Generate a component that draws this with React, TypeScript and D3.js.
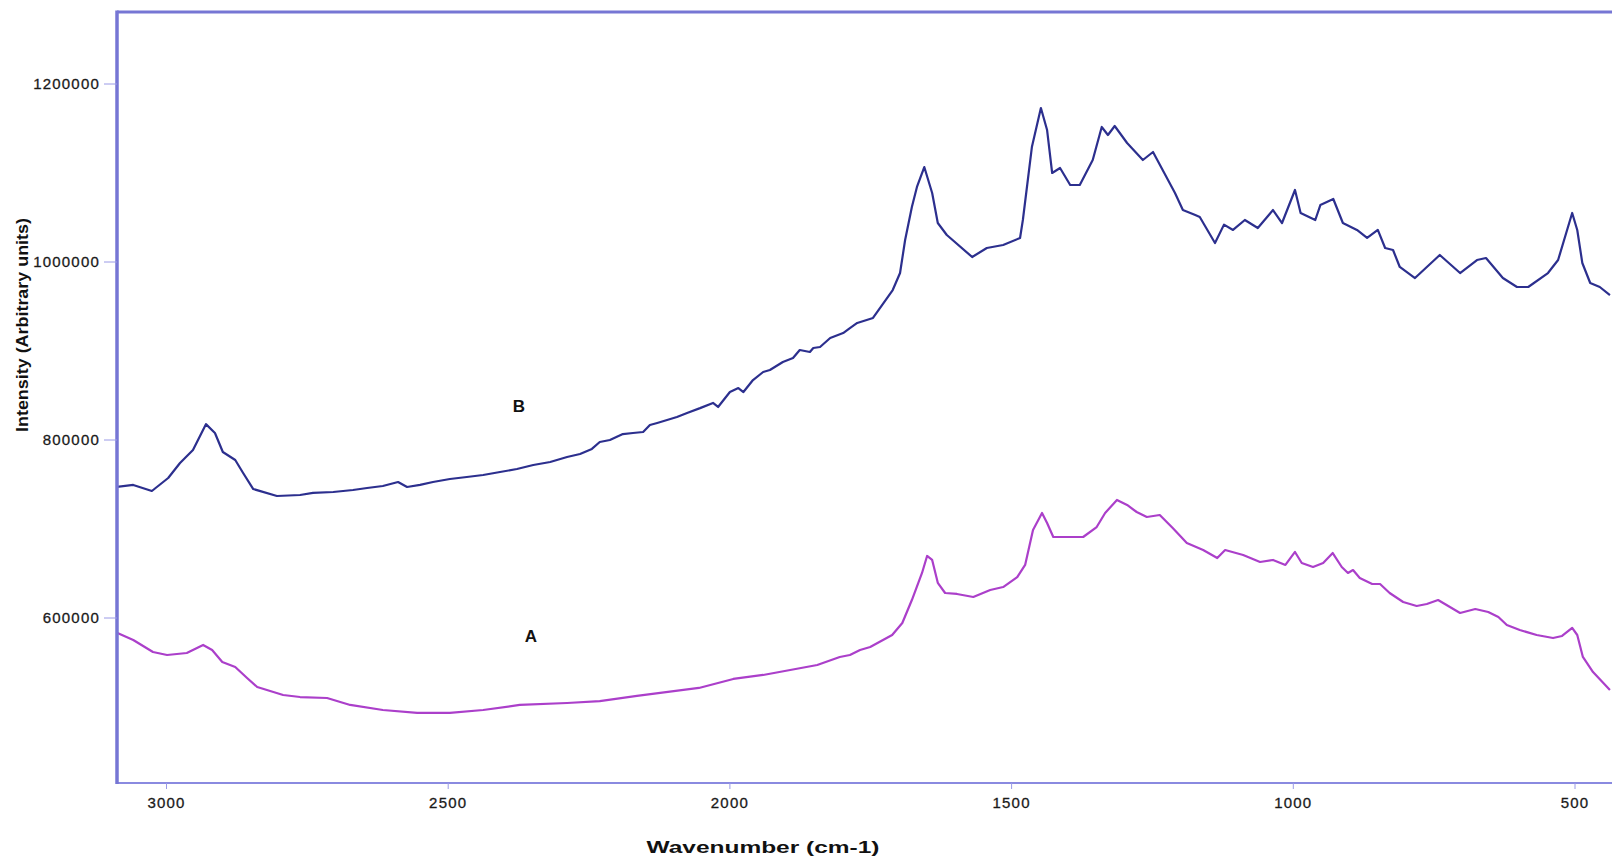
import React from "react";
import * as d3 from "d3";

// Wavenumber (cm-1) and intensity readings for spectrum B (upper, navy)
const waveB = [3088, 3059, 3026, 2997, 2976, 2953, 2930, 2914, 2900, 2878, 2864, 2846, 2804, 2763, 2740, 2704, 2669, 2644, 2616, 2589, 2573, 2550, 2527, 2497, 2467, 2438, 2408, 2378, 2349, 2319, 2289, 2266, 2245, 2231, 2213, 2190, 2172, 2154, 2142, 2129, 2094, 2076, 2053, 2030, 2021, 2000, 1985, 1976, 1959, 1941, 1929, 1906, 1888, 1876, 1858, 1852, 1840, 1822, 1799, 1787, 1774, 1746, 1711, 1698, 1689, 1677, 1668, 1655, 1641, 1631, 1615, 1570, 1544, 1515, 1485, 1480, 1464, 1448, 1437, 1428, 1414, 1396, 1379, 1356, 1340, 1329, 1317, 1295, 1267, 1249, 1210, 1196, 1174, 1166, 1139, 1123, 1107, 1086, 1063, 1036, 1020, 997, 987, 961, 952, 929, 912, 887, 869, 850, 837, 823, 811, 784, 740, 704, 674, 658, 628, 603, 583, 548, 530, 505, 496, 487, 473, 456, 438];
const intensityB = [747200, 749500, 742700, 757300, 774200, 788800, 817800, 807900, 786500, 777500, 762900, 744900, 737100, 738200, 740500, 741600, 743800, 746100, 748300, 752800, 747200, 749500, 752800, 756200, 758400, 760700, 764000, 767400, 771900, 775300, 780900, 784300, 790000, 797800, 800000, 806700, 807900, 809000, 816800, 819100, 825800, 830400, 835800, 841600, 837100, 853900, 858400, 853900, 867400, 876400, 878600, 887600, 892100, 901100, 898900, 903400, 904500, 914600, 920200, 925800, 931500, 937100, 968500, 987600, 1024700, 1061800, 1084300, 1106700, 1077500, 1043800, 1030300, 1005600, 1015700, 1019100, 1027000, 1047200, 1129200, 1173000, 1148300, 1100000, 1105600, 1086500, 1086500, 1114600, 1151700, 1142700, 1152800, 1133700, 1114600, 1123600, 1077500, 1058400, 1052800, 1050600, 1021300, 1042000, 1036000, 1047200, 1038200, 1058400, 1043800, 1080900, 1055100, 1047200, 1064000, 1070800, 1043800, 1036000, 1027000, 1036000, 1015700, 1013500, 994400, 982000, 1007900, 987600, 1002200, 1004500, 982000, 971900, 971900, 987600, 1002200, 1055100, 1036000, 998900, 976400, 971900, 962900];

// Spectrum A (lower, magenta)
const waveA = [3088, 3059, 3024, 2999, 2964, 2935, 2919, 2901, 2878, 2857, 2839, 2793, 2763, 2715, 2674, 2616, 2555, 2497, 2438, 2373, 2289, 2231, 2165, 2055, 1994, 1941, 1893, 1845, 1805, 1787, 1769, 1751, 1712, 1694, 1677, 1659, 1650, 1641, 1631, 1618, 1597, 1568, 1538, 1515, 1490, 1476, 1462, 1446, 1437, 1426, 1401, 1373, 1349, 1334, 1313, 1295, 1278, 1260, 1237, 1214, 1189, 1160, 1135, 1121, 1089, 1059, 1036, 1014, 997, 985, 965, 947, 930, 914, 903, 894, 882, 860, 846, 829, 805, 781, 763, 743, 725, 704, 677, 654, 636, 621, 598, 568, 539, 523, 505, 496, 486, 468, 438];
const intensityA = [583300, 575300, 561800, 558400, 560700, 569700, 564000, 550600, 544900, 532600, 522500, 513500, 511200, 510100, 502300, 496600, 493300, 493300, 496600, 502300, 504500, 506700, 512400, 521400, 531500, 536000, 541600, 547200, 556200, 558400, 564100, 567400, 580900, 594400, 620200, 650600, 669700, 665200, 639500, 628100, 627000, 623600, 631500, 634800, 646000, 659600, 698900, 718000, 706700, 691000, 691000, 691000, 702200, 718000, 732600, 727000, 719100, 713500, 715700, 701100, 684300, 676400, 667400, 676400, 670800, 662900, 665200, 659600, 674200, 661800, 657300, 661800, 673000, 657300, 650600, 653900, 644900, 638200, 638200, 628100, 618000, 613500, 615700, 620200, 613500, 605600, 610100, 606700, 601100, 592100, 586500, 580900, 577500, 579800, 588800, 580900, 556200, 539300, 519100];

const xTicks = [3000, 2500, 2000, 1500, 1000, 500];
const yTicks = [1200000, 1000000, 800000, 600000];

const xTitle = "Wavenumber (cm-1)";
const yTitle = "Intensity (Arbitrary units)";

export default function App() {
  const W = 1612;
  const H = 856;
  const left = 117;
  const top = 12;
  const bottom = 783;

  const x = d3.scaleLinear().domain([3000, 500]).range([166.5, 1575]);
  const y = d3.scaleLinear().domain([1200000, 600000]).range([84, 618]);

  const line = d3
    .line<[number, number]>()
    .x((d) => x(d[0]))
    .y((d) => y(d[1]));

  const dataB = waveB.map((w, i) => [w, intensityB[i]] as [number, number]);
  const dataA = waveA.map((w, i) => [w, intensityA[i]] as [number, number]);

  const frame = "#7676d4";
  const font = "Arial, 'Liberation Sans', sans-serif";

  return (
    <svg
      width={W}
      height={H}
      style={{ position: "absolute", left: 0, top: 0, background: "#fff" }}
    >
      <defs>
        <clipPath id="plotClip">
          <rect x={left} y={top} width={W - left} height={bottom - top} />
        </clipPath>
      </defs>

      {/* curves */}
      <g clipPath="url(#plotClip)" fill="none" strokeLinejoin="round">
        <path d={line(dataB) || ""} stroke="#2c2f8e" strokeWidth={2.2} />
        <path d={line(dataA) || ""} stroke="#ab3fca" strokeWidth={2.2} />
      </g>

      {/* frame */}
      <line x1={left} x2={W} y1={top} y2={top} stroke={frame} strokeWidth={3} />
      <line x1={left} x2={W} y1={bottom} y2={bottom} stroke="#8a8ae0" strokeWidth={2} />
      <line x1={left} x2={left} y1={top - 1.5} y2={bottom + 1} stroke={frame} strokeWidth={3.5} />

      {/* y ticks */}
      {yTicks.map((t) => (
        <g key={t}>
          <line x1={104} x2={left} y1={y(t)} y2={y(t)} stroke="#9a9ae6" strokeWidth={1} />
          <text
            x={100}
            y={y(t)}
            dy="0.35em"
            textAnchor="end"
            fontFamily={font}
            fontSize={15}
            letterSpacing={1.2}
            fill="#1a1a1a"
            stroke="#1a1a1a"
            strokeWidth={0.3}
          >
            {t}
          </text>
        </g>
      ))}

      {/* x ticks */}
      {xTicks.map((t) => (
        <g key={t}>
          <line x1={x(t)} x2={x(t)} y1={bottom} y2={bottom + 6} stroke="#9a9ae6" strokeWidth={1} />
          <text
            x={x(t)}
            y={808}
            textAnchor="middle"
            fontFamily={font}
            fontSize={15}
            letterSpacing={1.2}
            fill="#1a1a1a"
            stroke="#1a1a1a"
            strokeWidth={0.3}
          >
            {t}
          </text>
        </g>
      ))}

      {/* axis titles */}
      <text
        x={763}
        y={853}
        textAnchor="middle"
        fontFamily={font}
        fontSize={17}
        fontWeight="bold"
        fill="#111"
        textLength={233}
        lengthAdjust="spacingAndGlyphs"
      >
        {xTitle}
      </text>
      <text
        transform={`translate(28,325) rotate(-90)`}
        textAnchor="middle"
        fontFamily={font}
        fontSize={16}
        fontWeight="bold"
        fill="#111"
        textLength={214}
        lengthAdjust="spacingAndGlyphs"
      >
        {yTitle}
      </text>

      {/* series labels */}
      <text x={519} y={412} textAnchor="middle" fontFamily={font} fontSize={17} fontWeight="bold" fill="#111">
        B
      </text>
      <text x={531} y={642} textAnchor="middle" fontFamily={font} fontSize={17} fontWeight="bold" fill="#111">
        A
      </text>
    </svg>
  );
}
